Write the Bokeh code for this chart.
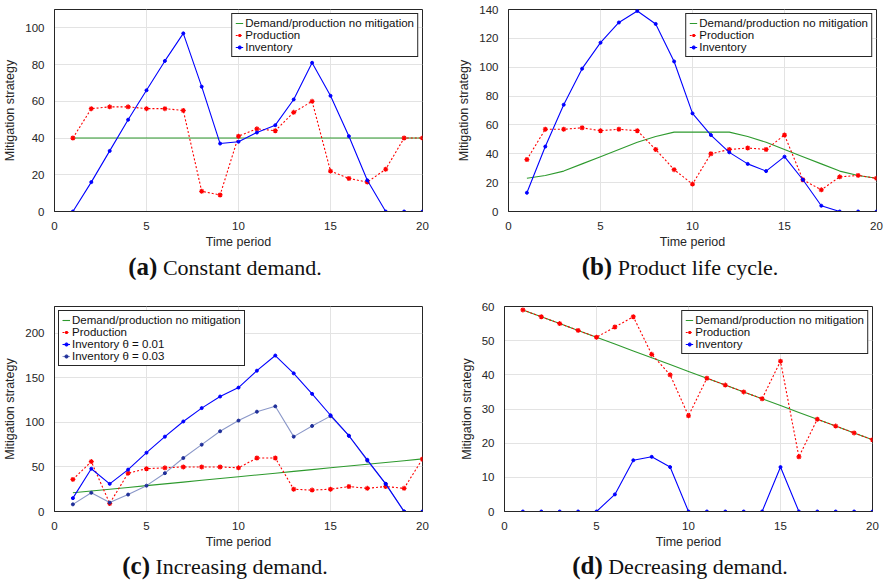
from bokeh.plotting import figure
from bokeh.models import Range1d, FixedTicker, Div
from bokeh.layouts import column, row
from bokeh.embed import file_html
from bokeh.resources import INLINE

t = list(range(1, 21))

# (a) Constant demand
a_demand = [40] * 20
a_production = [40, 56, 57, 57, 56, 56, 55, 11, 9, 41, 45, 44, 54, 60, 22, 18, 16, 23, 40, 40]
a_inventory = [0, 16, 33, 50, 66, 82, 97, 68, 37, 38, 43, 47, 61, 81, 63, 41, 17, 0, 0, 0]

# (b) Product life cycle
b_demand = [23, 25, 28, 33, 38, 43, 48, 52, 55, 55, 55, 55, 52, 48, 43, 38, 33, 28, 25, 23]
b_production = [36, 57, 57, 58, 56, 57, 56, 43, 29, 19, 40, 43, 44, 43, 53, 22, 15, 24, 25, 23]
b_inventory = [13, 45, 74, 99, 117, 131, 139, 130, 104, 68, 53, 41, 33, 28, 38, 22, 4, 0, 0, 0]

# (c) Increasing demand
c_demand = [21, 23, 25, 27, 29, 31, 33, 35, 37, 39, 41, 43, 45, 47, 49, 51, 53, 55, 57, 59]
c_production = [36, 56, 9, 43, 48, 49, 50, 50, 50, 49, 60, 60, 25, 24, 25, 28, 26, 28, 26, 59]
c_inventory_001 = [15, 48, 31, 47, 66, 84, 101, 116, 129, 139, 158, 175, 155, 132, 108, 85, 58, 31, 0, 0]
c_inventory_003 = [8, 21, 10, 19, 29, 43, 60, 75, 90, 102, 112, 118, 84, 96, 107, 85, 57, 31, 0, 0]

# (d) Decreasing demand
d_demand = [59, 57, 55, 53, 51, 49, 47, 45, 43, 41, 39, 37, 35, 33, 31, 29, 27, 25, 23, 21]
d_production = [59, 57, 55, 53, 51, 54, 57, 46, 40, 28, 39, 37, 35, 33, 44, 16, 27, 25, 23, 21]
d_inventory = [0, 0, 0, 0, 0, 5, 15, 16, 13, 0, 0, 0, 0, 0, 13, 0, 0, 0, 0, 0]

x_ticks = [0, 5, 10, 15, 20]

GREEN = "#2e9a2e"
RED = "#ff0000"
BLUE = "#0000ff"
LIGHTBLUE = "#8a97c8"
DARKBLUE = "#1f2f9a"
SANS = "Liberation Sans"

FW = 368
LEFT = 50
R1 = 32
R2 = 8


def make_fig(ymax, yticks, right, top, fh, bottom):
    p = figure(output_backend="svg", toolbar_location=None,
               x_range=Range1d(0, 20), y_range=Range1d(0, ymax),
               frame_width=FW, frame_height=fh,
               min_border_left=LEFT, min_border_right=right,
               min_border_top=top, min_border_bottom=bottom)
    p.xaxis.ticker = FixedTicker(ticks=x_ticks)
    p.yaxis.ticker = FixedTicker(ticks=yticks)
    p.xgrid.ticker = FixedTicker(ticks=x_ticks)
    p.ygrid.ticker = FixedTicker(ticks=yticks)
    p.grid.grid_line_color = "#e3e3e3"
    p.grid.grid_line_width = 1
    p.xaxis.axis_label = "Time period"
    p.yaxis.axis_label = "Mitigation strategy"
    for ax in (p.xaxis, p.yaxis):
        ax.axis_label_text_font = SANS
        ax.axis_label_text_font_size = "12.5px"
        ax.axis_label_text_font_style = "normal"
        ax.axis_label_text_color = "#262626"
        ax.major_label_text_font = SANS
        ax.major_label_text_font_size = "11.5px"
        ax.major_label_text_color = "#262626"
        ax.major_tick_line_color = None
        ax.minor_tick_line_color = None
        ax.axis_line_color = "#262626"
        ax.major_label_standoff = 4
    p.xaxis.axis_label_standoff = 2
    p.yaxis.axis_label_standoff = 5
    p.outline_line_color = "#262626"
    p.outline_line_width = 1
    p.outline_line_alpha = 1
    p.background_fill_color = "white"
    p.border_fill_color = "white"
    return p


def add_common(p, demand, production):
    p.line(t, demand, line_color=GREEN, line_width=1.1,
           legend_label="Demand/production no mitigation")
    p.line(t, production, line_color=RED, line_width=1.1, line_dash="2 2",
           legend_label="Production")
    p.scatter(t, production, marker="asterisk", size=5, line_color=RED,
              line_width=1.2, legend_label="Production")


def add_inventory(p, inv, label, lc, mc):
    p.line(t, inv, line_color=lc, line_width=1.1, legend_label=label)
    p.scatter(t, inv, marker="circle", size=3, line_color=mc, fill_color=mc,
              legend_label=label)


def style_legend(p, loc):
    lg = p.legend[0]
    lg.location = loc
    lg.margin = 4
    lg.padding = 3
    lg.spacing = 0
    lg.label_height = 12
    lg.glyph_height = 12
    lg.glyph_width = 8
    lg.label_standoff = 2
    lg.label_text_font = SANS
    lg.label_text_font_size = "11.5px"
    lg.label_text_color = "#111111"
    lg.border_line_color = "#262626"
    lg.border_line_width = 1
    lg.border_line_alpha = 1
    lg.background_fill_alpha = 1


# Row 1
pa = make_fig(110, [0, 20, 40, 60, 80, 100], R1, 9, 202, 34)
add_common(pa, a_demand, a_production)
add_inventory(pa, a_inventory, "Inventory", BLUE, BLUE)
style_legend(pa, "top_right")

pb = make_fig(140, [0, 20, 40, 60, 80, 100, 120, 140], R2, 9, 202, 34)
add_common(pb, b_demand, b_production)
add_inventory(pb, b_inventory, "Inventory", BLUE, BLUE)
style_legend(pb, "top_right")

# Row 2
pc = make_fig(230, [0, 50, 100, 150, 200], R1, 27, 205, 34)
add_common(pc, c_demand, c_production)
add_inventory(pc, c_inventory_003, "Inventory θ = 0.03", LIGHTBLUE, DARKBLUE)
add_inventory(pc, c_inventory_001, "Inventory θ = 0.01", BLUE, BLUE)
style_legend(pc, "top_left")
items = pc.legend[0].items
pc.legend[0].items = [items[0], items[1], items[3], items[2]]

pd_ = make_fig(60, [0, 10, 20, 30, 40, 50, 60], R2, 27, 205, 34)
add_common(pd_, d_demand, d_production)
add_inventory(pd_, d_inventory, "Inventory", BLUE, BLUE)
style_legend(pd_, "top_right")

W1 = LEFT + FW + R1
W2 = LEFT + FW + R2


def caption(letter, text, width, height, shift, lh):
    html = ('<div style="width:%dpx;text-align:center;padding-left:%dpx;'
            'box-sizing:border-box;line-height:%dpx;white-space:nowrap;'
            'font-family:\'Liberation Serif\',serif;font-size:22px;color:#111">'
            '<span style="font-weight:bold;font-size:25px">(%s)</span> %s</div>'
            % (width, shift, lh, letter, text))
    return Div(text=html, width=width, height=height, margin=(0, 0, 0, 0))


cap_a = caption("a", "Constant demand.", W1, 28, 0, 32)
cap_b = caption("b", "Product life cycle.", W2, 28, 34, 32)
cap_c = caption("c", "Increasing demand.", W1, 25, 0, 30)
cap_d = caption("d", "Decreasing demand.", W2, 25, 34, 30)

layout = column(
    row(pa, pb, spacing=0),
    row(cap_a, cap_b, spacing=0),
    row(pc, pd_, spacing=0),
    row(cap_c, cap_d, spacing=0),
    spacing=0,
)

open("out.html", "w").write(file_html(layout, INLINE))
